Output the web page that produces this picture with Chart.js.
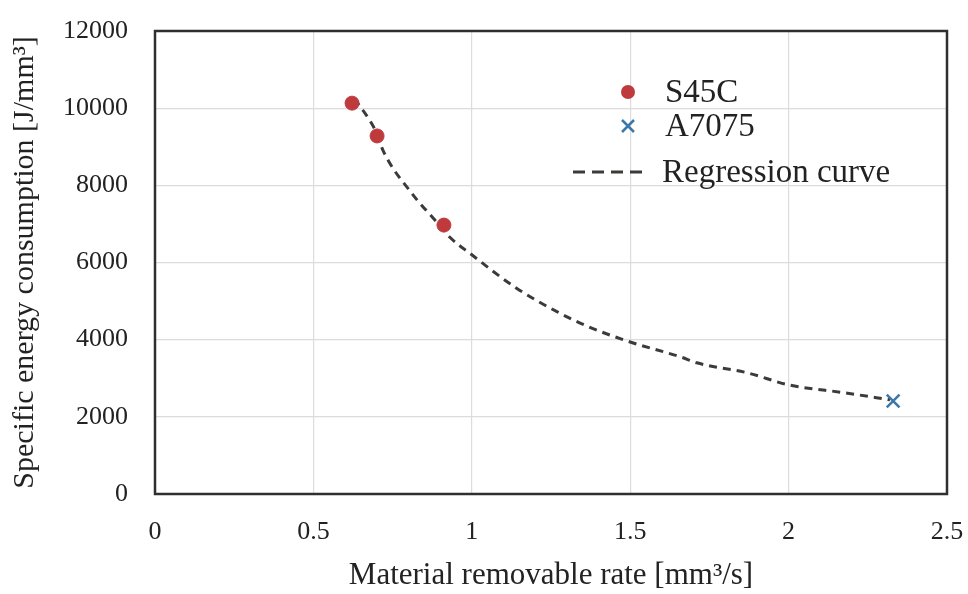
<!DOCTYPE html>
<html>
<head>
<meta charset="utf-8">
<script src="https://cdn.jsdelivr.net/npm/chart.js@4.4.1/dist/chart.umd.min.js"></script>
<style>
  html, body { margin: 0; padding: 0; background: #ffffff; }
  #wrap { width: 968px; height: 594px; position: relative; }
</style>
</head>
<body>
<div id="wrap"><canvas id="c" width="968" height="594"></canvas></div>
<script>
// ---- Data ----
const s45cX = [0.622, 0.701, 0.912];
const s45cY = [10130, 9280, 6970];

const a7075X = [2.330];
const a7075Y = [2410];

const curveX = [0.63, 0.70, 0.72, 0.81, 0.90, 0.93, 1.00, 1.14, 1.27, 1.37, 1.50, 1.66, 1.71, 1.87, 2.00, 2.18, 2.32];
const curveY = [10250, 9350, 8900, 7800, 6950, 6660, 6200, 5340, 4720, 4330, 3940, 3550, 3400, 3140, 2830, 2620, 2440];

const xTicks = [0, 0.5, 1, 1.5, 2, 2.5];
const yTicks = [0, 2000, 4000, 6000, 8000, 10000, 12000];

const seriesNames = ['S45C', 'A7075', 'Regression curve'];
const xTitle = 'Material removable rate [mm\u00B3/s]';
const yTitle = 'Specific energy consumption [J/mm\u00B3]';

// ---- Build datasets ----
const toPts = (xs, ys) => xs.map((x, i) => ({ x: x, y: ys[i] }));

const RED = '#bf3a3d';
const BLUE = '#3b78aa';
const DASH = '#3d3a38';
const TEXT = '#222222';
const FONT = "'Liberation Serif', 'Times New Roman', serif";

const borderPlugin = {
  id: 'frameAndLegend',
  afterDraw(chart) {
    const { ctx, chartArea: a } = chart;
    ctx.save();
    // plot frame
    ctx.strokeStyle = '#2f2f2f';
    ctx.lineWidth = 2.5;
    ctx.strokeRect(a.left, a.top, a.right - a.left, a.bottom - a.top);

    // legend inside plot (upper right)
    const lx = a.left + 473;   // marker centre
    const tx = a.left + 510;   // text start
    const y1 = a.top + 61, y2 = a.top + 95, y3 = a.top + 141;
    ctx.font = '33px ' + FONT;
    ctx.fillStyle = TEXT;
    ctx.textBaseline = 'middle';
    ctx.textAlign = 'left';

    // S45C marker
    ctx.beginPath();
    ctx.fillStyle = RED;
    ctx.arc(lx, y1, 7, 0, Math.PI * 2);
    ctx.fill();
    // A7075 marker
    ctx.strokeStyle = BLUE;
    ctx.lineWidth = 2.5;
    ctx.beginPath();
    ctx.moveTo(lx - 6, y2 - 6); ctx.lineTo(lx + 6, y2 + 6);
    ctx.moveTo(lx + 6, y2 - 6); ctx.lineTo(lx - 6, y2 + 6);
    ctx.stroke();
    // regression line sample
    ctx.strokeStyle = DASH;
    ctx.lineWidth = 3;
    ctx.setLineDash([12, 7]);
    ctx.beginPath();
    ctx.moveTo(a.left + 418, y3);
    ctx.lineTo(a.left + 491, y3);
    ctx.stroke();
    ctx.setLineDash([]);

    ctx.fillStyle = TEXT;
    ctx.fillText(seriesNames[0], tx, y1 + 1);
    ctx.fillText(seriesNames[1], tx, y2 + 1);
    ctx.fillText(seriesNames[2], tx - 3, y3 + 1);
    ctx.restore();
  }
};

new Chart(document.getElementById('c'), {
  type: 'scatter',
  data: {
    datasets: [
      {
        label: seriesNames[2],
        type: 'line',
        data: toPts(curveX, curveY),
        borderColor: DASH,
        borderWidth: 3,
        borderDash: [8, 6],
        pointRadius: 0,
        tension: 0.4,
        cubicInterpolationMode: 'monotone',
        fill: false,
        order: 3
      },
      {
        label: seriesNames[0],
        data: toPts(s45cX, s45cY),
        backgroundColor: RED,
        borderColor: RED,
        pointRadius: 7,
        pointStyle: 'circle',
        order: 1
      },
      {
        label: seriesNames[1],
        data: toPts(a7075X, a7075Y),
        borderColor: BLUE,
        backgroundColor: BLUE,
        pointStyle: 'cross',
        rotation: 45,
        pointRadius: 9,
        borderWidth: 2.5,
        order: 0
      }
    ]
  },
  options: {
    responsive: false,
    animation: false,
    layout: { padding: { top: 31, right: 21, left: 0, bottom: 0 } },
    plugins: {
      legend: { display: false },
      tooltip: { enabled: false }
    },
    scales: {
      x: {
        type: 'linear',
        min: xTicks[0],
        max: xTicks[xTicks.length - 1],
        afterBuildTicks: s => { s.ticks = xTicks.map(v => ({ value: v })); },
        afterFit: s => { s.height = 100; s.paddingLeft = 0; s.paddingRight = 0; },
        grid: { color: '#dcdcdc', lineWidth: 1.2, drawTicks: false },
        border: { display: false },
        ticks: {
          color: TEXT,
          font: { family: FONT, size: 26 },
          padding: 23,
          callback: v => String(v)
        },
        title: {
          display: true,
          text: xTitle,
          color: TEXT,
          font: { family: FONT, size: 31 },
          padding: { top: 0, bottom: 0 }
        }
      },
      y: {
        type: 'linear',
        min: yTicks[0],
        max: yTicks[yTicks.length - 1],
        afterBuildTicks: s => { s.ticks = yTicks.map(v => ({ value: v })); },
        afterFit: s => { s.width = 155; s.paddingTop = 0; s.paddingBottom = 0; },
        grid: { color: '#dcdcdc', lineWidth: 1.2, drawTicks: false },
        border: { display: false },
        ticks: {
          color: TEXT,
          font: { family: FONT, size: 26 },
          padding: 27,
          callback: v => String(v)
        },
        title: {
          display: true,
          text: yTitle,
          color: TEXT,
          font: { family: FONT, size: 30 },
          padding: { top: 7, bottom: 0 }
        }
      }
    }
  },
  plugins: [borderPlugin]
});
</script>
</body>
</html>
